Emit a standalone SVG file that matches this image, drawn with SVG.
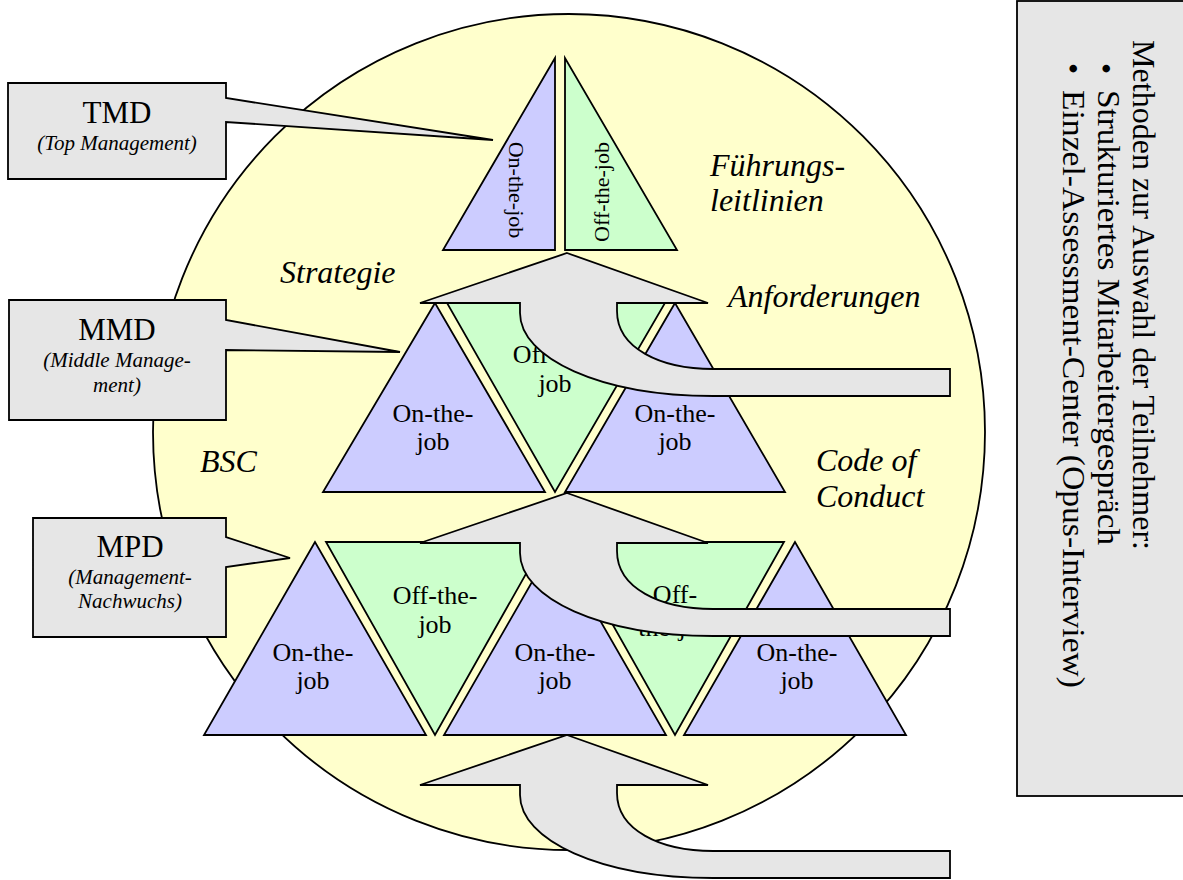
<svg xmlns="http://www.w3.org/2000/svg" width="1183" height="880" viewBox="0 0 1183 880">
<style>
.s{stroke:#000;stroke-width:1.8;stroke-linejoin:miter}
.bl{fill:#CCCCFF}
.gr{fill:#CCFFCC}
.gy{fill:#E6E6E6}
.t{font-family:"Liberation Serif","Times New Roman",serif;fill:#000}
.it{font-style:italic}
.c{text-anchor:middle}
</style>
<rect width="1183" height="880" fill="#fff"/>
<g id="background">
<ellipse cx="569" cy="432" rx="416" ry="418" fill="#FFFFCC" class="s"/>
</g>
<g id="labels" class="t it" font-size="32">
<text x="280" y="283">Strategie</text>
<text x="710" y="176">Führungs-</text>
<text x="710" y="211">leitlinien</text>
<text x="728" y="307">Anforderungen</text>
<text x="200" y="472">BSC</text>
<text x="816" y="471">Code of</text>
<text x="816" y="507">Conduct</text>
</g>
<g id="row1">
<g id="r1-on"><polygon class="s bl" points="555,58 443,250 555,250"/>
<text class="t c" font-size="22" transform="translate(509,190) rotate(90)">On-the-job</text></g>
<g id="r1-off"><polygon class="s gr" points="565,58 565,250 677,250"/>
<text class="t c" font-size="22" transform="translate(609,192) rotate(-90)">Off-the-job</text></g>
</g>
<g id="row2" class="t c" font-size="26">
<g id="r2-on1"><polygon class="s bl" points="435,303 323,492 545,492"/>
<text x="433" y="422">On-the-</text><text x="433" y="450">job</text></g>
<g id="r2-off"><polygon class="s gr" points="447,303 665,303 555,492"/>
<text x="555" y="363">Off-the-</text><text x="555" y="392">job</text></g>
<g id="r2-on2"><polygon class="s bl" points="675,303 565,492 785,492"/>
<text x="675" y="422">On-the-</text><text x="675" y="450">job</text></g>
</g>
<g id="row3" class="t c" font-size="26">
<g id="r3-on1"><polygon class="s bl" points="315,542 204,735 426,735"/>
<text x="313" y="661">On-the-</text><text x="313" y="689">job</text></g>
<g id="r3-off1"><polygon class="s gr" points="326,542 544,542 435,735"/>
<text x="435" y="604">Off-the-</text><text x="435" y="633">job</text></g>
<g id="r3-on2"><polygon class="s bl" points="555,542 444,735 666,735"/>
<text x="555" y="661">On-the-</text><text x="555" y="689">job</text></g>
<g id="r3-off2"><polygon class="s gr" points="566,542 784,542 675,735"/>
<text x="675" y="603">Off-</text><text x="675" y="636">the-job</text></g>
<g id="r3-on3"><polygon class="s bl" points="795,542 684,735 906,735"/>
<text x="797" y="661">On-the-</text><text x="797" y="689">job</text></g>
</g>
<g id="connectors">
<path class="s gy" d="M567,253 L708,303 L617,303 L617,311 C617,348 660,369 713,369 L950,369 L950,396 L713,396 C600,396 520,358 520,313 L520,303 L420,303 Z"/>
<path class="s gy" d="M567,493 L708,543 L617,543 L617,551 C617,588 660,609 713,609 L950,609 L950,636 L713,636 C600,636 520,598 520,553 L520,543 L420,543 Z"/>
<path class="s gy" d="M567,735 L708,785 L617,785 L617,793 C617,830 660,851 713,851 L950,851 L950,878 L713,878 C600,878 520,840 520,795 L520,785 L420,785 Z"/>
</g>
<g id="tmd">
<path class="s gy" d="M8,83 H226 V98 L493,140 L226,122 V179 H8 Z"/>
<text class="t c" font-size="31" x="117" y="123">TMD</text>
<text class="t c it" font-size="21" x="117" y="150">(Top Management)</text>
</g>
<g id="mmd">
<path class="s gy" d="M9,300 H226 V320 L400,352 L226,350 V420 H9 Z"/>
<text class="t c" font-size="31" x="117" y="340">MMD</text>
<text class="t c it" font-size="21" x="117" y="367">(Middle Manage-</text>
<text class="t c it" font-size="21" x="117" y="392">ment)</text>
</g>
<g id="mpd">
<path class="s gy" d="M33,518 H226 V537 L290,558 L226,567 V637 H33 Z"/>
<text class="t c" font-size="31" x="130" y="557">MPD</text>
<text class="t c it" font-size="21" x="130" y="584">(Management-</text>
<text class="t c it" font-size="21" x="130" y="608">Nachwuchs)</text>
</g>
<g id="methods">
<rect class="s gy" x="1017" y="1" width="175" height="795"/>
<g class="t" font-size="32">
<text transform="translate(1133,40) rotate(90)" textLength="510" lengthAdjust="spacingAndGlyphs">Methoden zur Auswahl der Teilnehmer:</text>
<text transform="translate(1095,63) rotate(90)">•</text>
<text transform="translate(1098,90) rotate(90)" textLength="455" lengthAdjust="spacingAndGlyphs">Strukturiertes Mitarbeitergespräch</text>
<text transform="translate(1062,63) rotate(90)">•</text>
<text transform="translate(1063,90) rotate(90)" textLength="598" lengthAdjust="spacingAndGlyphs">Einzel-Assessment-Center (Opus-Interview)</text>
</g>
</g>
</svg>
